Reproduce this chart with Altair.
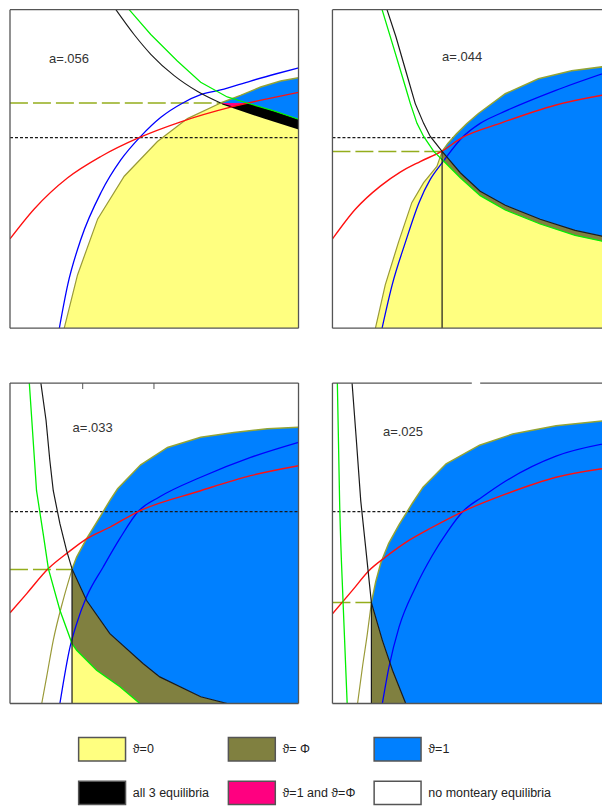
import altair as alt
import pandas as pd

# ---------------- legend categories ----------------
CATS = ["ϑ=0", "ϑ= Φ", "ϑ=1", "all 3 equilibria", "ϑ=1 and ϑ=Φ", "no monteary equilibria"]
FILLS = ["#ffff80", "#808040", "#0080ff", "#000000", "#ff0080", "#ffffff"]

PANEL_A = ["a=.056", "a=.044", "a=.033", "a=.025"]
PANEL_A_POS = [(13.5, 84.5), (38.0, 85.0), (21.7, 85.9), (17.5, 84.8)]

# ---------------- panel 1 (a=.056) ----------------
P1_BLACK = [(36.7, 100), (43.0, 92.2), (48.8, 86.0), (56.9, 79.3), (64.9, 74.4), (73.0, 70.7)]
P1_GREEN = [(41.3, 100), (48.8, 92.2), (58.0, 83.9), (66.1, 77.2), (75.3, 72.6), (82.2, 70.7),
            (91.5, 68.2), (100, 65.6)]
P1_RED = [(0, 28.0), (8.4, 37.4), (20.0, 47.2), (31.5, 53.9), (44.7, 59.8), (59.2, 64.8),
          (76.5, 69.4), (89.2, 72.0), (100, 74.0)]
P1_BLUE = [(17.1, 0), (20.0, 13.6), (24.6, 28.0), (31.5, 42.5), (38.4, 52.8), (45.3, 60.2),
           (52.3, 66.2), (59.9, 70.7), (66.1, 73.3), (73.0, 74.8), (83.4, 77.6), (92.0, 79.8),
           (100, 81.7)]
P1_OLIVE = [(18.8, 0), (23.4, 16.7), (30.4, 34.3), (39.6, 47.7), (51.1, 58.6), (61.5, 65.8), (73.0, 70.7)]
P1_TOP = [(73.0, 70.7), (79.9, 73.1), (86.9, 75.7), (93.8, 77.6), (100, 78.6)]
P1_LOW = [(73.0, 70.7), (73.6, 70.2), (88.0, 65.8), (100, 62.4)]
P1_PINK = [(73.0, 70.7), (82.2, 70.7), (77.6, 69.5)]
P1_DASH = (70.7, 0, 73.0)
P1_DOT = (59.8, 0, 100)

# ---------------- panel 2 (a=.044) ----------------
P2_BLACK = [(18.9, 100), (22.0, 91.5), (25.5, 80.5), (28.7, 70.5), (31.6, 64.3), (33.9, 60.2), (38.0, 55.5)]
P2_EDGE = [(38.0, 55.5), (44.3, 48.8), (51.2, 43.0), (59.9, 38.6), (72.0, 34.2), (84.1, 30.7), (96.5, 28.3)]
P2_GREEN = [(17.2, 100), (21.2, 88.1), (25.3, 75.7), (27.0, 70.5), (29.3, 64.3), (31.6, 60.2),
            (35.1, 55.5), (38.5, 52.5)]
P2_BAND_LOW = [(38.5, 52.5), (44.3, 47.2), (51.2, 41.6), (59.9, 37.1), (72.0, 32.7), (84.1, 29.1), (96.5, 26.7)]
P2_RED = [(0, 28.0), (8.0, 37.4), (16.6, 44.6), (23.5, 49.0), (30.4, 52.3), (38.0, 55.6), (44.9, 59.8),
          (58.1, 64.3), (77.2, 70.0), (96.5, 73.6)]
P2_BLUE = [(17.2, 0), (20.7, 13.6), (25.3, 27.0), (30.0, 39.4), (33.9, 46.7), (38.0, 51.9), (44.9, 59.8),
           (51.2, 64.3), (58.1, 67.4), (77.2, 74.6), (96.5, 80.8)]
P2_OLIVE = [(14.9, 0), (18.3, 13.6), (22.9, 27.0), (27.5, 39.4), (31.6, 45.7), (36.2, 50.8), (38.0, 55.5)]
P2_TOP = [(38.0, 55.5), (40.0, 58.0), (43.0, 61.0), (46.5, 64.2), (50.6, 67.4), (59.9, 73.6),
          (71.4, 78.3), (82.9, 80.8), (96.5, 82.4)]
P2_DASH = (55.5, 0, 38.0)
P2_DOT = (59.8, 0, 42.0)
P2_VLINE = (38.0, 0, 55.5)

# ---------------- panel 3 (a=.033) ----------------
P3_BLACK = [(10.7, 100), (12.5, 88.3), (13.8, 75.9), (15.0, 66.4), (17.3, 56.1), (19.6, 47.8), (21.5, 42.0)]
P3_EDGE = [(21.5, 42.0), (26.5, 32.2), (34.6, 21.8), (46.1, 12.5), (51.9, 8.3), (66.1, 2.1), (75.3, 0)]
P3_GREEN = [(6.7, 100), (9.2, 66.4), (11.5, 53.0), (13.3, 42.1), (17.3, 29.1), (21.5, 18.7)]
P3_YEDGE = [(21.5, 18.7), (23.1, 16.6), (30.0, 10.4), (38.1, 5.2), (45.0, 0)]
P3_RED = [(0, 28.3), (5.8, 34.3), (13.3, 42.1), (20.2, 47.2), (26.5, 51.4), (34.6, 55.0), (44.4, 59.9),
          (66.1, 66.4), (83.4, 71.1), (100, 74.2)]
P3_BLUE = [(17.3, 0), (20.8, 17.6), (23.1, 24.9), (26.5, 33.2), (32.3, 42.6), (38.1, 51.5), (44.4, 59.9),
           (51.9, 64.5), (66.1, 70.6), (83.4, 76.8), (100, 81.5)]
P3_OLIVE = [(11.0, 0), (12.7, 8.3), (15.0, 19.7), (18.4, 32.2), (21.5, 41.8)]
P3_TOP = [(21.5, 42.0), (23.1, 45.7), (26.5, 51.4), (31.1, 58.1), (34.6, 63.3), (37.3, 67.0), (45.3, 74.5),
          (54.6, 79.9), (66.1, 83.1), (77.6, 84.6), (89.2, 85.7), (100, 86.2)]
P3_DASH = (41.8, 0, 21.5)
P3_DOT = (59.9, 0, 100)
P3_VLINE = (21.5, 0, 41.8)
P3_TOP_TICKS = [25.2, 49.9]

# ---------------- panel 4 (a=.025) ----------------
P4_BLACK = [(6.8, 100), (8.3, 82.0), (9.8, 63.3), (11.5, 48.8), (13.5, 31.5)]
P4_EDGE = [(13.5, 31.5), (17.3, 19.7), (20.8, 10.4), (25.4, 0)]
P4_GREEN = [(1.7, 100), (2.5, 62.3), (3.7, 31.2), (5.1, 0)]
P4_RED = [(0, 28.0), (6.9, 35.3), (12.7, 41.5), (18.4, 45.7), (26.5, 50.9), (34.6, 55.0), (45.2, 59.9),
          (60.2, 65.4), (77.5, 70.6), (96.9, 73.7)]
P4_BLUE = [(17.3, 0), (19.6, 11.4), (23.1, 23.9), (28.8, 36.3), (34.6, 46.2), (40.0, 53.8), (45.2, 59.9),
           (52.0, 64.5), (60.2, 69.5), (77.5, 77.2), (96.9, 81.5)]
P4_OLIVE = [(8.7, 0), (10.4, 11.4), (12.1, 21.8), (13.5, 31.5)]
P4_TOP = [(13.5, 31.5), (15.0, 38.0), (16.8, 44.0), (19.5, 50.0), (23.1, 55.8), (27.7, 62.5), (31.4, 67.5),
          (39.4, 74.8), (51.0, 80.6), (62.5, 84.1), (77.5, 86.7), (96.9, 88.5)]
P4_DASH = (31.5, 0, 13.5)
P4_DOT = (59.9, 0, 45.2)
P4_VLINE = (13.5, 0, 31.5)
P4_TOP_GAP = (48.3, 51.2)

# ---------------- styling ----------------
RED, BLUE, GREEN, BLACK = "#ff1010", "#0000ff", "#00f000", "#1a1a1a"
OLIVE_LINE, DASH_COL, FRINGE = "#9a9a38", "#94ad1c", "#94a434"
FRAME = "#555555"
FONT = "Liberation Sans"

W_L, W_R = 289, 270
H_T, H_B = 319, 321
XMAX_R = 100 * W_R / W_L

LEGEND = alt.Legend(
    orient="none", legendX=68, legendY=728, columns=3, direction="horizontal",
    title=None, padding=0,
    symbolType="M-1,-1H3V1H-1Z", symbolSize=552,
    symbolStrokeColor="#555555", symbolStrokeWidth=1.5, symbolOpacity=1,
    labelFont=FONT, labelFontSize=12.5, labelColor="#222222", labelOffset=30,
    columnPadding=15, rowPadding=13,
)


def rows_of(pts):
    return pd.DataFrame({"x": [p[0] for p in pts], "y": [p[1] for p in pts],
                         "o": list(range(len(pts)))})


def build_panel(regions, curves, hrules, vrules, label, pos, xmax, w, h,
                right_side=True, top_gap=None, top_ticks=None):
    xs = alt.Scale(domain=[0, xmax], nice=False, zero=False)
    ys = alt.Scale(domain=[0, 100], nice=False, zero=False)
    ex = alt.X("x:Q", scale=xs, axis=None)
    ey = alt.Y("y:Q", scale=ys, axis=None)
    layers = []
    for cat, pts in regions:
        df = rows_of(pts)
        df["cat"] = cat
        layers.append(alt.Chart(df).mark_line(filled=True, clip=True).encode(
            x=ex, y=ey, order="o:Q",
            color=alt.Color("cat:N", scale=alt.Scale(domain=CATS, range=FILLS), legend=LEGEND)))
    for (yv, x0, x1), col, dash, sw in hrules:
        df = pd.DataFrame({"x": [x0], "x2": [x1], "y": [yv]})
        layers.append(alt.Chart(df).mark_rule(color=col, strokeDash=dash, strokeWidth=sw, clip=True)
                      .encode(x=ex, x2="x2:Q", y=ey))
    for pts, col, sw, interp in curves:
        layers.append(alt.Chart(rows_of(pts)).mark_line(color=col, strokeWidth=sw, clip=True,
                                                        interpolate=interp)
                      .encode(x=ex, y=ey, order="o:Q"))
    for (xv, y0, y1) in vrules:
        df = pd.DataFrame({"x": [xv], "y": [y0], "y2": [y1]})
        layers.append(alt.Chart(df).mark_rule(color=BLACK, strokeWidth=1.2, clip=True)
                      .encode(x=ex, y=ey, y2="y2:Q"))
    tdf = pd.DataFrame({"x": [pos[0]], "y": [pos[1]], "t": [label]})
    layers.append(alt.Chart(tdf).mark_text(align="left", baseline="middle", font=FONT,
                                           fontSize=13, color="#333333")
                  .encode(x=ex, y=ey, text="t:N"))
    base = alt.Chart(pd.DataFrame({"k": [0]}))
    fr = dict(color=FRAME, strokeWidth=1.3)
    layers.append(base.mark_rule(**fr).encode(x=alt.value(0), y=alt.value(0), y2=alt.value(h)))
    layers.append(base.mark_rule(**fr).encode(x=alt.value(0), x2=alt.value(w), y=alt.value(h)))
    if top_gap is None:
        layers.append(base.mark_rule(**fr).encode(x=alt.value(0), x2=alt.value(w), y=alt.value(0)))
    else:
        seg = pd.DataFrame({"x": [0, top_gap[1]], "x2": [top_gap[0], xmax]})
        layers.append(alt.Chart(seg).mark_rule(**fr).encode(x=ex, x2="x2:Q", y=alt.value(0)))
    if right_side:
        layers.append(base.mark_rule(**fr).encode(x=alt.value(w), y=alt.value(0), y2=alt.value(h)))
    if top_ticks is not None:
        tk = pd.DataFrame({"x": top_ticks})
        layers.append(alt.Chart(tk).mark_rule(color=FRAME, strokeWidth=1)
                      .encode(x=ex, y=alt.value(0), y2=alt.value(6)))
    return alt.layer(*layers).properties(width=w, height=h)


DASHED = [18, 5]
DOTTED = [3, 2]
LIN, SMOOTH = "linear", "monotone"

p1 = build_panel(
    regions=[(CATS[0], P1_OLIVE + P1_TOP[1:] + [(100, 0)]),
             (CATS[3], P1_PINK[:2] + P1_GREEN[6:] + P1_LOW[::-1]),
             (CATS[4], P1_PINK),
             (CATS[2], P1_TOP + P1_GREEN[5:][::-1])],
    curves=[(P1_TOP, FRINGE, 1.5, LIN), (P1_OLIVE, OLIVE_LINE, 1.2, LIN), (P1_BLUE, BLUE, 1.3, SMOOTH),
            (P1_RED, RED, 1.3, SMOOTH), (P1_GREEN, GREEN, 1.2, LIN), (P1_BLACK, BLACK, 1.1, SMOOTH)],
    hrules=[(P1_DOT, BLACK, DOTTED, 1.2), (P1_DASH, DASH_COL, DASHED, 1.5)],
    vrules=[], label=PANEL_A[0], pos=PANEL_A_POS[0], xmax=100, w=W_L, h=H_T)

p2 = build_panel(
    regions=[(CATS[0], P2_OLIVE + P2_TOP[1:] + [(96.5, 0)]),
             (CATS[1], P2_EDGE + P2_BAND_LOW[::-1]),
             (CATS[2], P2_TOP + P2_EDGE[::-1])],
    curves=[(P2_TOP, FRINGE, 1.5, LIN), (P2_OLIVE, OLIVE_LINE, 1.2, LIN), (P2_BLUE, BLUE, 1.3, SMOOTH),
            (P2_RED, RED, 1.4, SMOOTH), (P2_GREEN + P2_BAND_LOW[1:], GREEN, 1.3, LIN),
            (P2_BLACK + P2_EDGE[1:], BLACK, 1.2, LIN)],
    hrules=[(P2_DOT, BLACK, DOTTED, 1.2), (P2_DASH, DASH_COL, DASHED, 1.5)],
    vrules=[P2_VLINE], label=PANEL_A[1], pos=PANEL_A_POS[1], xmax=XMAX_R, w=W_R, h=H_T,
    right_side=False)

p3 = build_panel(
    regions=[(CATS[0], P3_YEDGE + [(21.5, 0)]),
             (CATS[1], P3_EDGE + P3_YEDGE[::-1]),
             (CATS[2], P3_TOP + [(100, 0)] + P3_EDGE[::-1])],
    curves=[(P3_TOP, FRINGE, 1.5, LIN), (P3_OLIVE, OLIVE_LINE, 1.2, SMOOTH), (P3_BLUE, BLUE, 1.3, SMOOTH),
            (P3_RED, RED, 1.4, SMOOTH), (P3_GREEN + P3_YEDGE[1:], GREEN, 1.3, LIN),
            (P3_BLACK + P3_EDGE[1:], BLACK, 1.2, LIN)],
    hrules=[(P3_DOT, BLACK, DOTTED, 1.2), (P3_DASH, DASH_COL, DASHED, 1.5)],
    vrules=[P3_VLINE], label=PANEL_A[2], pos=PANEL_A_POS[2], xmax=100, w=W_L, h=H_B,
    top_ticks=P3_TOP_TICKS)

p4 = build_panel(
    regions=[(CATS[1], P4_EDGE + [(13.5, 0)]),
             (CATS[2], P4_TOP + [(96.9, 0)] + P4_EDGE[::-1])],
    curves=[(P4_TOP, FRINGE, 1.5, LIN), (P4_OLIVE, OLIVE_LINE, 1.2, SMOOTH), (P4_BLUE, BLUE, 1.3, SMOOTH),
            (P4_RED, RED, 1.4, SMOOTH), (P4_GREEN, GREEN, 1.3, SMOOTH),
            (P4_BLACK + P4_EDGE[1:], BLACK, 1.2, LIN)],
    hrules=[(P4_DOT, BLACK, DOTTED, 1.2), (P4_DASH, DASH_COL, DASHED, 1.5)],
    vrules=[P4_VLINE], label=PANEL_A[3], pos=PANEL_A_POS[3], xmax=XMAX_R, w=W_R, h=H_B,
    right_side=False, top_gap=P4_TOP_GAP)

chart = alt.vconcat(
    alt.hconcat(p1, p2, spacing=32),
    alt.hconcat(p3, p4, spacing=32),
    spacing=53,
).properties(
    padding={"left": 1, "top": 0, "right": 0, "bottom": 0}
).configure_view(strokeOpacity=0)

chart.save("out.html", embed_options={"renderer": "svg", "actions": False})
